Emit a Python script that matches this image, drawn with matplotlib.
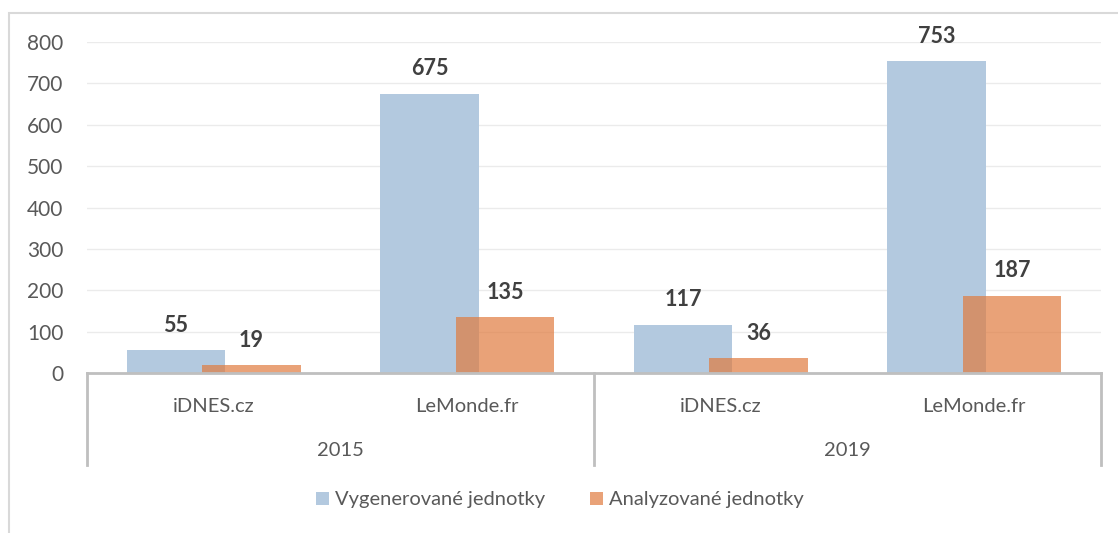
import matplotlib.pyplot as plt
import numpy as np
from matplotlib.patches import Rectangle

years = ["2015", "2019"]
sites = ["iDNES.cz", "LeMonde.fr", "iDNES.cz", "LeMonde.fr"]
generated = [55, 675, 117, 753]
analyzed = [19, 135, 36, 187]
series_names = ["Vygenerované jednotky", "Analyzované jednotky"]
yticks = [0, 100, 200, 300, 400, 500, 600, 700, 800]

plt.rcParams["font.family"] = ["Lato", "DejaVu Sans"]
text_color = "#595959"
blue = "#B3C9DF"
orange = "#E07B3F"

fig = plt.figure(figsize=(11.18, 5.33), dpi=100)
fig.patches.append(
    Rectangle((9 / 1118, -0.02), 1.05, 1 - 13 / 533 + 0.02, transform=fig.transFigure,
              facecolor="none", edgecolor="#D9D9D9", linewidth=1.5)
)
ax = fig.add_axes([87 / 1118, 1 - 373 / 533, (1101 - 87) / 1118, (373 - 42) / 533])

x = np.arange(len(sites))
w = 0.39
off = 0.149
b1 = ax.bar(x - off, generated, w, color=blue, label=series_names[0], zorder=2)
b2 = ax.bar(x + off, analyzed, w, color=orange, alpha=0.7, label=series_names[1], zorder=3)

for bars, vals in ((b1, generated), (b2, analyzed)):
    for rect, v in zip(bars, vals):
        ax.text(rect.get_x() + rect.get_width() / 2, v + 60, str(v), ha="center", va="center",
                fontsize=15.5, fontweight="bold", color="#404040", clip_on=False)

ax.set_xlim(-0.5, len(sites) - 0.5)
ax.set_ylim(0, 800)
ax.set_yticks(yticks)
ax.tick_params(axis="y", length=0, labelsize=15, labelcolor=text_color, pad=17)
ax.tick_params(axis="x", length=0, labelbottom=False)
ax.grid(axis="y", color="#EBEBEB", linewidth=1, zorder=0)
ax.set_axisbelow(True)
for s in ax.spines.values():
    s.set_visible(False)

# category axis box
ax.axhline(0, color="#BFBFBF", linewidth=2, zorder=4, clip_on=False)
depth = -(465 - 373) / 331
for xs in (0, 0.5, 1):
    ax.plot([xs, xs], [0, depth], transform=ax.transAxes, color="#BFBFBF", linewidth=2,
            clip_on=False)
for xi, name in zip(x, sites):
    ax.text(xi, -(407 - 373) / 331 * 800, name, ha="center", va="center", fontsize=14.5,
            color=text_color)
for i, yr in enumerate(years):
    ax.text(0.5 + 2 * i, -(451 - 373) / 331 * 800, yr, ha="center", va="center", fontsize=14.5,
            color=text_color)

ax.legend(loc="center", bbox_to_anchor=((560 - 87) / 1014, -(500 - 373) / 331), ncol=2,
          frameon=False, fontsize=14.5, labelcolor=text_color, handlelength=0.65,
          handleheight=0.65, handletextpad=0.3, columnspacing=2.2)

fig.savefig("out.png", dpi=100)
